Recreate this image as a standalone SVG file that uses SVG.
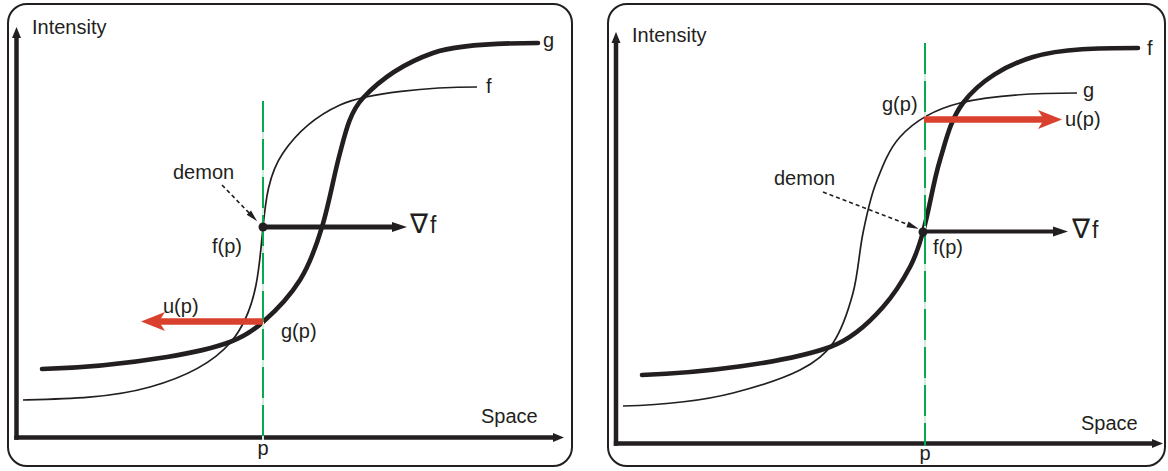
<svg xmlns="http://www.w3.org/2000/svg" width="1168" height="471" viewBox="0 0 1168 471">
<style>
.frame{fill:#fff;stroke:#231f20;stroke-width:2}
.axis{fill:none;stroke:#231f20;stroke-width:4.5}
.thin{fill:none;stroke:#231f20;stroke-width:1.7;stroke-linecap:butt}
.thick{fill:none;stroke:#231f20;stroke-width:4.6;stroke-linecap:round}
.gfaint{stroke:#cfeeda;stroke-width:2}
.green{stroke:#0aa84f;stroke-width:2;stroke-dasharray:31 7}
.grad{fill:none;stroke:#231f20}
.red{fill:none;stroke:#d9412e;stroke-width:6.5}
.demon{fill:none;stroke:#231f20;stroke-width:1.6;stroke-dasharray:4 3}
.lbl{font-family:"Liberation Sans",Arial,sans-serif;font-size:20px;fill:#231f20}
.nab{font-family:"DejaVu Sans",sans-serif;font-size:27px;fill:#231f20}
.nf{font-family:"Liberation Sans",Arial,sans-serif;font-size:23px;fill:#231f20}
</style>
<defs>
<marker id="ahAxis" markerUnits="userSpaceOnUse" viewBox="-12 -6 13 12" refX="-8" refY="0" markerWidth="13" markerHeight="12" orient="auto"><path d="M0,0 L-11,-4.5 L-11,4.5 Z" fill="#231f20"/></marker>
<marker id="ahGrad" markerUnits="userSpaceOnUse" viewBox="-16 -6 17 12" refX="-12" refY="0" markerWidth="17" markerHeight="12" orient="auto"><path d="M0,0 L-15,-5 L-15,5 Z" fill="#231f20"/></marker>
<marker id="ahRed" markerUnits="userSpaceOnUse" viewBox="-24 -11 25 22" refX="-18" refY="0" markerWidth="25" markerHeight="22" orient="auto"><path d="M0,0 L-24,-9.5 L-18,0 L-24,9.5 Z" fill="#d9412e"/></marker>
<marker id="ahDemon" markerUnits="userSpaceOnUse" viewBox="-13 -4 14 8" refX="-6" refY="0" markerWidth="14" markerHeight="8" orient="auto"><path d="M0,0 L-12,-3 L-12,3 Z" fill="#231f20"/></marker>
</defs>

<g id="panel-left">
<rect class="frame" x="8" y="4" width="564" height="462" rx="19"/>
<g id="left-axes">
<line class="axis" x1="16.5" y1="439.7" x2="16.5" y2="35" marker-end="url(#ahAxis)"/>
<line class="axis" x1="14.3" y1="437.5" x2="556" y2="437.5" marker-end="url(#ahAxis)"/>
<text class="lbl" x="32" y="34">Intensity</text>
<text class="lbl" x="481" y="423">Space</text>
<text class="lbl" x="263" y="455" text-anchor="middle">p</text>
</g>
<g id="left-curve-f">
<path class="thin" d="M23,400 C65,399 109.7,398.3 150,387 C178.8,378.9 210.2,365.8 230,343 C243.9,327 251.9,305.6 256,285 C259.8,266 261.1,246 263,227 C265.6,201 268.4,174.4 283,153 C297,132.3 317.3,115.3 340,105 C367.3,92.7 430,87 477,87"/>
<text class="lbl" x="486" y="93">f</text>
</g>
<g id="left-curve-g">
<path class="thick" d="M42,369 C84,368 125.5,363.7 167,357 C188.7,353.5 209.3,349.5 230,342 C242.2,337.6 253.3,330.6 263,322 C277.3,309.5 289.9,296.2 300,280 C310.1,263.8 316.5,245.2 322,227 C329.3,203 333.5,177 340,153 C345.2,133.8 349.4,112.6 363,98 C382,77.6 406.7,62.2 433,53 C456.5,44.75 500,43 538,43"/>
<text class="lbl" x="543" y="47">g</text>
</g>
<g id="left-p-line">
<line class="gfaint" x1="263" y1="101" x2="263" y2="440"/>
<line class="green" x1="263" y1="101" x2="263" y2="440"/>
</g>
<g id="left-connectors">
<line class="grad" stroke-width="5" x1="263" y1="227" x2="395" y2="227" marker-end="url(#ahGrad)"/>
<line class="red" x1="263" y1="321.5" x2="159" y2="321.5" marker-end="url(#ahRed)"/>
<line class="demon" x1="222" y1="185" x2="253" y2="217" marker-end="url(#ahDemon)"/>
</g>
<g id="left-demon">
<circle cx="263" cy="227" r="4.5" fill="#231f20"/>
<text class="lbl" x="173" y="179">demon</text>
<text class="lbl" x="212" y="253">f(p)</text>
</g>
<g id="left-labels">
<text x="410" y="233"><tspan class="nab">∇</tspan><tspan class="nf" dx="2">f</tspan></text>
<text class="lbl" x="163" y="313">u(p)</text>
<text class="lbl" x="281" y="338">g(p)</text>
</g>
</g>

<g id="panel-right">
<rect class="frame" x="608" y="4" width="557" height="462" rx="19"/>
<g id="right-axes">
<line class="axis" x1="616" y1="445.7" x2="616" y2="40" marker-end="url(#ahAxis)"/>
<line class="axis" x1="613.8" y1="443.5" x2="1155" y2="443.5" marker-end="url(#ahAxis)"/>
<text class="lbl" x="632" y="42">Intensity</text>
<text class="lbl" x="1081" y="430">Space</text>
<text class="lbl" x="925" y="460" text-anchor="middle">p</text>
</g>
<g id="right-curve-f">
<path class="thick" d="M642,375 C700,373 785,363 830,347 C850.7,339.6 868.5,323.5 883,307 C893.6,295 902.5,281.1 910,267 C915.6,256.4 919.8,243.5 923,232 C929.75,208 932.75,184 940,160 C946.1,139.8 950.4,119.8 963,103 C979.8,80.6 1006.1,65.1 1033,57 C1061.8,48.3 1100,48 1138,48"/>
<text class="lbl" x="1147" y="55">f</text>
</g>
<g id="right-curve-g">
<path class="thin" d="M623,406 C660,405 697.1,402.2 733,393 C756.3,387 778.6,380.8 800,370 C812.5,363.7 825.3,354.6 833,343 C842.9,328.1 848.3,310.5 853,293 C858.2,273.6 859,252.6 863,233 C866.4,216.3 869.9,198.8 876,183 C882.1,167.2 888.6,149.6 900,137 C915.4,120 937.7,108.5 960,103 C994,94.6 1045,93 1077,93"/>
<text class="lbl" x="1083" y="97">g</text>
</g>
<g id="right-p-line">
<line class="gfaint" x1="925" y1="43" x2="925" y2="446"/>
<line class="green" x1="925" y1="43" x2="925" y2="446"/>
</g>
<g id="right-connectors">
<line class="grad" stroke-width="4" x1="923" y1="231.5" x2="1056" y2="231.5" marker-end="url(#ahGrad)"/>
<line class="red" x1="924" y1="119.5" x2="1044" y2="119.5" marker-end="url(#ahRed)"/>
<line class="demon" x1="823" y1="192" x2="913" y2="226.5" marker-end="url(#ahDemon)"/>
</g>
<g id="right-demon">
<circle cx="923" cy="232" r="4.5" fill="#231f20"/>
<text class="lbl" x="774" y="185">demon</text>
<text class="lbl" x="933" y="254">f(p)</text>
</g>
<g id="right-labels">
<text x="1072" y="238"><tspan class="nab">∇</tspan><tspan class="nf" dx="2">f</tspan></text>
<text class="lbl" x="1065" y="126">u(p)</text>
<text class="lbl" x="882" y="111">g(p)</text>
</g>
</g>
</svg>
